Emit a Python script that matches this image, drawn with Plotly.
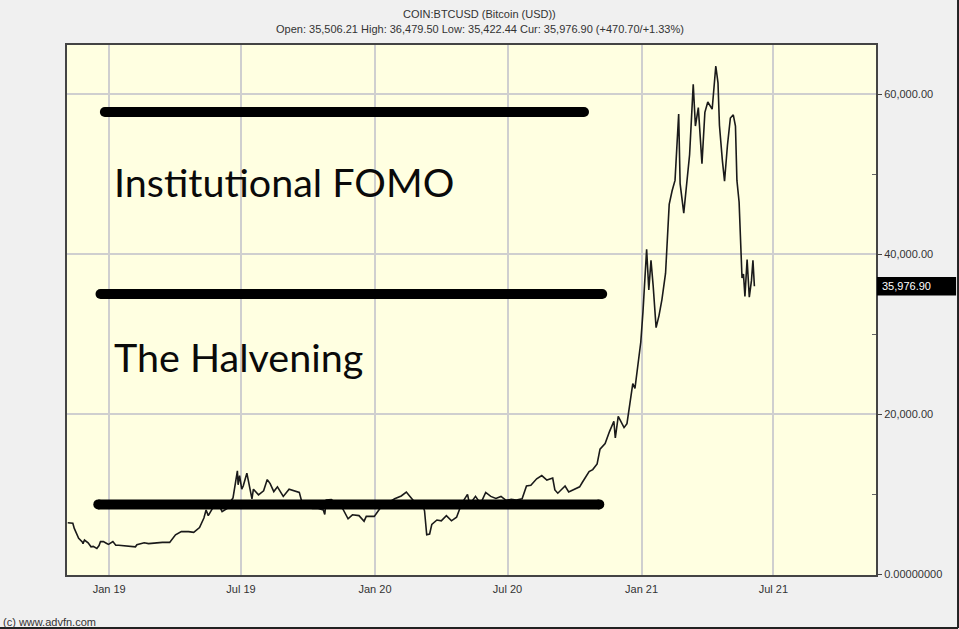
import plotly.graph_objects as go

# ---------------- data ----------------
dates = [
    "2018-11-05", "2018-11-12", "2018-11-14", "2018-11-19", "2018-11-20", "2018-11-25", "2018-11-26",
    "2018-11-28", "2018-12-03", "2018-12-07", "2018-12-10", "2018-12-15", "2018-12-18", "2018-12-20",
    "2018-12-24", "2018-12-28", "2018-12-31",
    "2019-01-06", "2019-01-10", "2019-01-14", "2019-01-20", "2019-01-28", "2019-02-06", "2019-02-08",
    "2019-02-18", "2019-02-24", "2019-03-01", "2019-03-15", "2019-03-25", "2019-04-02", "2019-04-10",
    "2019-04-20", "2019-04-27", "2019-05-05", "2019-05-11", "2019-05-14", "2019-05-17", "2019-05-26",
    "2019-06-01", "2019-06-05", "2019-06-12", "2019-06-16", "2019-06-20", "2019-06-22", "2019-06-26",
    "2019-06-27", "2019-06-29", "2019-07-02", "2019-07-04", "2019-07-09", "2019-07-12", "2019-07-16",
    "2019-07-18", "2019-07-25", "2019-08-01", "2019-08-06", "2019-08-10", "2019-08-15", "2019-08-20",
    "2019-08-28", "2019-09-05", "2019-09-12", "2019-09-19", "2019-09-24", "2019-10-01", "2019-10-07",
    "2019-10-15", "2019-10-22", "2019-10-24", "2019-10-26", "2019-11-02", "2019-11-10", "2019-11-18",
    "2019-11-22", "2019-11-25", "2019-12-01", "2019-12-10", "2019-12-17", "2019-12-20", "2019-12-31",
    "2020-01-07", "2020-01-14", "2020-01-19", "2020-01-28", "2020-02-06", "2020-02-13", "2020-02-19",
    "2020-02-26", "2020-03-05", "2020-03-09", "2020-03-12", "2020-03-16", "2020-03-19", "2020-03-26",
    "2020-04-01", "2020-04-08", "2020-04-15", "2020-04-22", "2020-04-29", "2020-05-07", "2020-05-10",
    "2020-05-18", "2020-05-25", "2020-06-01", "2020-06-08", "2020-06-15", "2020-06-22", "2020-06-29",
    "2020-07-06", "2020-07-13", "2020-07-21", "2020-07-27", "2020-08-02", "2020-08-10", "2020-08-17",
    "2020-08-24", "2020-09-01", "2020-09-04", "2020-09-08", "2020-09-18", "2020-09-23", "2020-10-01",
    "2020-10-08", "2020-10-12", "2020-10-21", "2020-10-26", "2020-11-01", "2020-11-05", "2020-11-12",
    "2020-11-18", "2020-11-24", "2020-11-26", "2020-11-30", "2020-12-08", "2020-12-12", "2020-12-16",
    "2020-12-20", "2020-12-23", "2020-12-27", "2020-12-31",
    "2021-01-03", "2021-01-08", "2021-01-11", "2021-01-14", "2021-01-17", "2021-01-21", "2021-01-25",
    "2021-01-29", "2021-02-03", "2021-02-08", "2021-02-12", "2021-02-16", "2021-02-21", "2021-02-23",
    "2021-02-28", "2021-03-04", "2021-03-08", "2021-03-13", "2021-03-16", "2021-03-20", "2021-03-25",
    "2021-03-29", "2021-04-02", "2021-04-08", "2021-04-13", "2021-04-16", "2021-04-18", "2021-04-22",
    "2021-04-25", "2021-04-29", "2021-05-03", "2021-05-07", "2021-05-10", "2021-05-12", "2021-05-15",
    "2021-05-19", "2021-05-21", "2021-05-23", "2021-05-26", "2021-05-29", "2021-06-01", "2021-06-03",
    "2021-06-05",
]
prices = [
    6400, 6350, 5700, 4800, 4450, 4000, 3800,
    4250, 3900, 3400, 3450, 3200, 3550, 4050,
    4050, 3850, 3700,
    4050, 3600, 3600, 3550, 3450, 3400, 3650,
    3900, 3800, 3850, 3950, 3950, 4900, 5300,
    5300, 5200, 5800, 7000, 8000, 7300, 8700,
    8550, 7800, 8200, 9000, 9500, 10700, 12900,
    11150, 12300, 10600, 11000, 12600, 11400, 9400,
    10600, 9900, 10400, 11800, 11300, 10300, 10900,
    9700, 10600, 10400, 10200, 8500, 8300, 8200,
    8200, 8000, 7450, 9250, 9300, 8800, 8100,
    7300, 6900, 7400, 7300, 6600, 7200, 7200,
    8100, 8800, 8900, 9400, 9750, 10250, 9600,
    8800, 9050, 7900, 4900, 5000, 6200, 6750,
    6650, 7300, 6650, 7100, 8800, 9950, 8700,
    9700, 8800, 10200, 9700, 9450, 9700, 9200,
    9350, 9250, 9400, 11000, 11100, 11900, 12300,
    11750, 12000, 10500, 10100, 11000, 10250, 10600,
    10900, 11500, 12800, 13050, 13750, 15600, 16300,
    17800, 19100, 17000, 19700, 18300, 18800, 21300,
    23800, 23200, 26300, 29000,
    32800, 40600, 35500, 39200, 36000, 30800, 32300,
    34300, 37600, 46200, 47900, 49200, 57500, 48800,
    45100, 48400, 52400, 61200, 56000, 58300, 51300,
    57700, 59000, 58100, 63500, 61400, 56100, 51700,
    49100, 53600, 57000, 57400, 56000, 49200, 46500,
    37000, 37500, 34700, 39300, 34600, 36700, 39200,
    35977,
]

tick_dates = ["2019-01-01", "2019-07-01", "2020-01-01", "2020-07-01", "2021-01-01", "2021-07-01"]
tick_date_labels = ["Jan 19", "Jul 19", "Jan 20", "Jul 20", "Jan 21", "Jul 21"]
price_ticks = [0, 20000, 40000, 60000]
price_tick_labels = ["0.00000000", "20,000.00", "40,000.00", "60,000.00"]

current_price = 35976.90
current_label = "35,976.90"

# hand-drawn marker lines: level, start, end
marker_levels = [57750, 35000, 8700]
marker_starts = ["2018-12-26", "2018-12-20", "2018-12-17"]
marker_ends = ["2020-10-14", "2020-11-08", "2020-11-04"]

note_texts = ["Institutional FOMO", "The Halvening"]
note_levels = [49100, 27200]
note_date = "2019-01-05"

title_line1 = "COIN:BTCUSD (Bitcoin (USD))"
title_line2 = "Open: 35,506.21 High: 36,479.50 Low: 35,422.44 Cur: 35,976.90 (+470.70/+1.33%)"

# ---------------- figure ----------------
fig = go.Figure()

fig.add_trace(go.Scatter(
    x=dates, y=prices, mode="lines",
    line=dict(color="#1a1a1a", width=1.6),
    showlegend=False, hoverinfo="skip",
))

for lvl, s, e in zip(marker_levels, marker_starts, marker_ends):
    fig.add_trace(go.Scatter(
        x=[s, e], y=[lvl, lvl], mode="lines+markers",
        line=dict(color="black", width=10),
        marker=dict(color="black", size=10),
        showlegend=False, hoverinfo="skip",
    ))

GRID = "#cfcfcf"
TXT = "#333333"
fig.update_layout(
    width=959, height=629,
    margin=dict(l=67, r=83, t=45, b=54),
    paper_bgcolor="#f0f0f0",
    plot_bgcolor="#ffffe1",
    font=dict(family="Liberation Sans, Arial, sans-serif", size=11, color=TXT),
    xaxis=dict(
        range=["2018-11-04", "2021-11-19"],
        tickvals=tick_dates, ticktext=tick_date_labels,
        showgrid=True, gridcolor=GRID, gridwidth=1.5,
        showline=True, linecolor="#444444", linewidth=2, mirror=True,
        ticks="outside", ticklen=3, tickcolor="#f0f0f0",
        zeroline=False,
    ),
    yaxis=dict(
        side="right",
        range=[-125, 66125],
        tickvals=price_ticks, ticktext=price_tick_labels,
        showgrid=True, gridcolor=GRID, gridwidth=1.5,
        showline=True, linecolor="#444444", linewidth=2, mirror=True,
        ticks="outside", ticklen=4, tickcolor="#444444",
        minor=dict(tickvals=[10000, 30000, 50000], ticks="inside", ticklen=4, tickcolor="#666666", showgrid=False),
        zeroline=False,
    ),
)

for txt, lvl in zip(note_texts, note_levels):
    fig.add_annotation(
        x=note_date, y=lvl, xref="x", yref="y", text=txt, showarrow=False,
        xanchor="left", yanchor="middle",
        font=dict(family="Lato, sans-serif", size=39.5, color="#0a0a0a"),
    )

fig.add_annotation(
    x=0.5105, y=1.0585, xref="paper", yref="paper", text=title_line1, showarrow=False,
    xanchor="center", yanchor="middle", font=dict(size=11, color=TXT),
)
fig.add_annotation(
    x=0.5105, y=1.030, xref="paper", yref="paper", text=title_line2, showarrow=False,
    xanchor="center", yanchor="middle", font=dict(size=11, color=TXT),
)

# current price tag on the right axis
fig.add_shape(type="rect", xref="paper", yref="y", x0=1.0012, x1=1.0990,
              y0=current_price - 1150, y1=current_price + 1150,
              fillcolor="#000000", line=dict(width=0), layer="above")
fig.add_annotation(
    x=1.0045, y=current_price, xref="paper", yref="y", text=current_label, showarrow=False,
    xanchor="left", yanchor="middle", font=dict(size=11, color="#ffffff"),
)

fig.add_annotation(
    x=-0.081, y=-0.088, xref="paper", yref="paper", text="(c) www.advfn.com", showarrow=False,
    xanchor="left", yanchor="middle", font=dict(size=11, color=TXT),
)

# outer frame of the picture
fig.add_shape(type="line", xref="paper", yref="paper", x0=1.1014, x1=1.1014, y0=-0.1, y1=1.0849,
              line=dict(color="#222222", width=2))
fig.add_shape(type="line", xref="paper", yref="paper", x0=-0.0828, x1=1.1014, y0=-0.1, y1=-0.1,
              line=dict(color="#222222", width=2))

fig.write_html("out.html", config={"displayModeBar": False},
               post_script="document.body.style.margin='0';document.body.style.overflow='hidden';")
